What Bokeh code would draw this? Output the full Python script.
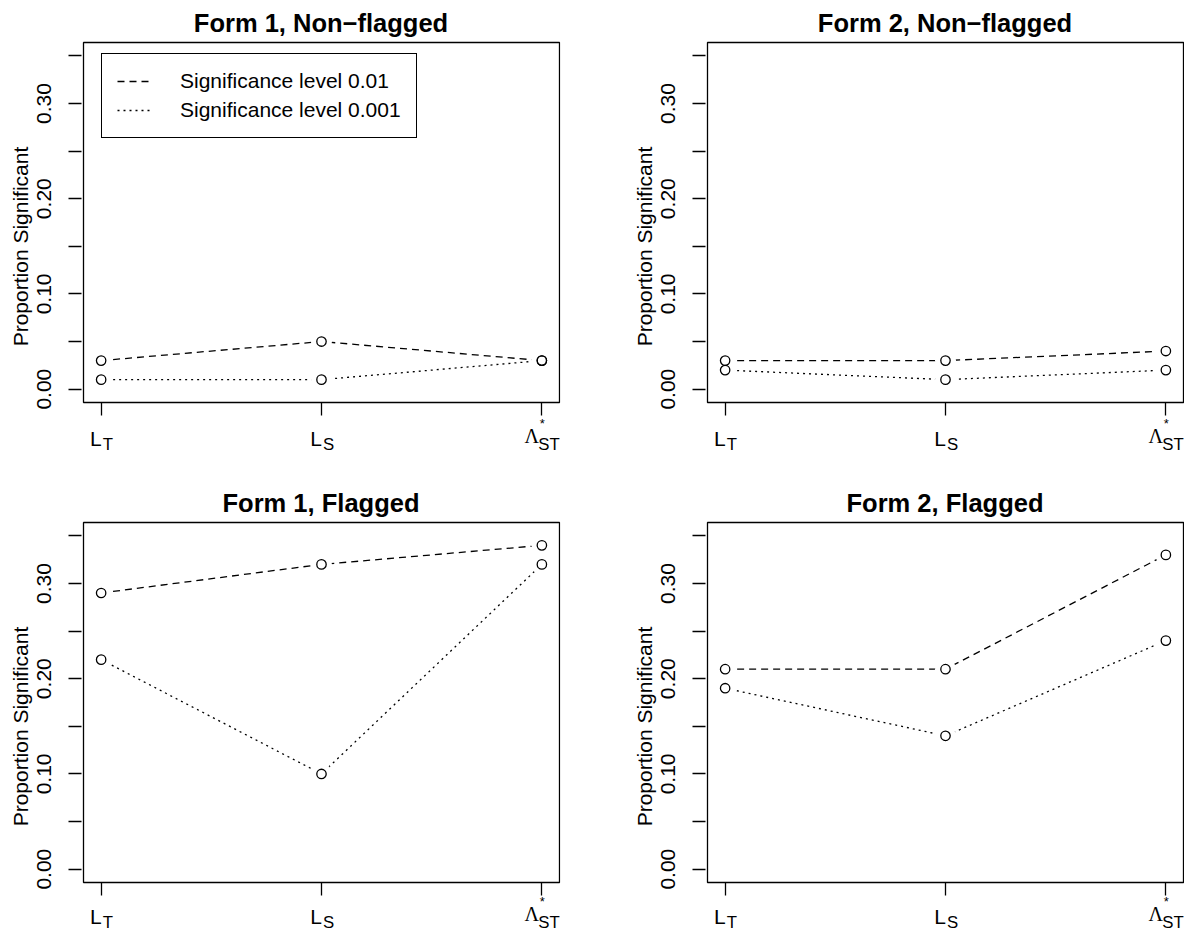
from bokeh.plotting import figure
from bokeh.layouts import gridplot
from bokeh.models import (Range1d, FixedTicker, PrintfTickFormatter, Label, Legend, LegendItem,
                          BoxAnnotation, Title)
from bokeh.embed import file_html
from bokeh.resources import INLINE

# ---- data ----
x_pos = [1, 2, 3]
tick_base = ["L", "L", "Λ"]
tick_sub = ["T", "S", "ST"]
tick_sup = ["", "", "*"]

titles = ["Form 1, Non−flagged", "Form 2, Non−flagged", "Form 1, Flagged", "Form 2, Flagged"]

sig01_form1_nonflag = [0.03, 0.05, 0.03]
sig001_form1_nonflag = [0.01, 0.01, 0.03]
sig01_form2_nonflag = [0.03, 0.03, 0.04]
sig001_form2_nonflag = [0.02, 0.01, 0.02]
sig01_form1_flag = [0.29, 0.32, 0.34]
sig001_form1_flag = [0.22, 0.10, 0.32]
sig01_form2_flag = [0.21, 0.21, 0.33]
sig001_form2_flag = [0.19, 0.14, 0.24]

y_major = [0.0, 0.1, 0.2, 0.3]
y_minor = [0.05, 0.15, 0.25, 0.35]
legend_labels = ["Significance level 0.01", "Significance level 0.001"]
y_label = "Proportion Significant"

# plotting region (R-style 4% extension of the data limits)
box_x = (0.92, 3.08)
box_y = (-0.014, 0.364)

FONT = "Liberation Sans"
SERIF = "Liberation Serif"
LW = 1.3
BOX_W, BOX_H = 476, 360          # box size in px
PAD_L, PAD_R, PAD_T, PAD_B = 2, 1, 2, 50   # frame extends beyond the box (px)
PXX = BOX_W / (box_x[1] - box_x[0])
PXY = BOX_H / (box_y[1] - box_y[0])
MAIN_FS, SUB_FS, GREEK_FS = 21.0, 16.8, 20.0


def mid_offset(baseline_drop, fs, ratio=0.3465):
    # y offset (px, upward) of a vertically centred text whose baseline sits baseline_drop px below the box
    return -(baseline_drop - ratio * fs)


def make_panel(title, s01, s001, width, height, br, drop, show_legend):
    p = figure(width=width, height=height, output_backend="svg", toolbar_location=None,
               x_range=Range1d(box_x[0] - PAD_L / PXX, box_x[1] + PAD_R / PXX),
               y_range=Range1d(box_y[0] - PAD_B / PXY, box_y[1] + PAD_T / PXY),
               min_border_left=81, min_border_right=br, min_border_top=40,
               min_border_bottom=height - 40 - (BOX_H + PAD_T + PAD_B))
    p.title.text = title
    p.title.align = "center"
    p.title.text_font = FONT
    p.title.text_font_size = "25.5px"
    p.title.text_font_style = "bold"
    p.title.text_color = "black"
    p.title.standoff = 8
    p.title.offset = (PAD_R - PAD_L) / 2
    p.xgrid.visible = False
    p.ygrid.visible = False
    p.outline_line_color = None
    p.background_fill_color = "white"
    p.border_fill_color = "white"

    p.add_layout(BoxAnnotation(left=box_x[0], right=box_x[1], bottom=box_y[0], top=box_y[1],
                               fill_color=None, line_color="black", line_width=LW, line_alpha=1.0))

    xa = p.xaxis[0]
    xa.fixed_location = box_y[0]
    xa.ticker = FixedTicker(ticks=x_pos)
    xa.axis_line_color = None
    xa.major_tick_out = 13
    xa.major_tick_in = 0
    xa.major_tick_line_width = LW
    xa.major_tick_line_color = "black"
    xa.minor_tick_line_color = None
    xa.major_label_text_font_size = "1px"
    xa.major_label_text_color = None

    ya = p.yaxis[0]
    ya.ticker = FixedTicker(ticks=y_major, minor_ticks=y_minor)
    ya.formatter = PrintfTickFormatter(format="%.2f")
    ya.axis_line_color = None
    ya.major_tick_out = 13
    ya.major_tick_in = 0
    ya.minor_tick_out = 13
    ya.minor_tick_in = 0
    ya.major_tick_line_width = LW
    ya.minor_tick_line_width = LW
    ya.major_tick_line_color = "black"
    ya.minor_tick_line_color = "black"
    ya.major_label_orientation = "vertical"
    ya.major_label_text_font = FONT
    ya.major_label_text_font_size = "21px"
    ya.major_label_text_color = "black"
    ya.major_label_standoff = 17

    # y-axis title, centred on the box (not on the taller frame)
    p.add_layout(Title(text=y_label, align="center", offset=(PAD_B - PAD_T) / 2, standoff=6,
                       text_font=FONT, text_font_size="21px", text_font_style="normal",
                       text_color="black"), "left")

    l1 = p.line(x_pos, s01, line_color="black", line_width=LW, line_dash="7 5")
    l2 = p.line(x_pos, s001, line_color="black", line_width=LW, line_dash="2 4")
    for s in (s01, s001):
        p.scatter(x_pos, s, size=21, fill_color="white", line_color=None)
    for s in (s01, s001):
        p.scatter(x_pos, s, size=9.4, fill_color=None, line_color="black", line_width=LW)

    y0 = box_y[0]
    for xv, b, sub, sup in zip(x_pos, tick_base, tick_sub, tick_sup):
        is_greek = sup != ""
        if is_greek:
            base_off = mid_offset(drop - 3, GREEK_FS, 0.3375)
        else:
            base_off = mid_offset(drop, MAIN_FS)
        p.add_layout(Label(x=xv, y=y0, x_offset=(-2.8 if is_greek else 0.5), y_offset=base_off,
                           text=b, text_align="right", text_baseline="middle",
                           text_font=(SERIF if is_greek else FONT),
                           text_font_size=f"{GREEK_FS if is_greek else MAIN_FS}px",
                           text_color="black"))
        p.add_layout(Label(x=xv, y=y0, x_offset=(-3.5 if is_greek else 1.5),
                           y_offset=mid_offset(drop + 4.5, SUB_FS), text=sub, text_align="left",
                           text_baseline="middle", text_font=FONT,
                           text_font_size=f"{SUB_FS}px", text_color="black"))
        if sup:
            p.add_layout(Label(x=xv, y=y0, x_offset=0.4, y_offset=-(drop - 22.5),
                               text=sup, text_align="center", text_baseline="middle",
                               text_font=FONT, text_font_size="13px", text_color="black"))

    if show_legend:
        leg = Legend(items=[LegendItem(label=legend_labels[0], renderers=[l1]),
                            LegendItem(label=legend_labels[1], renderers=[l2])],
                     location=(18 + PAD_L, 264 + PAD_B), margin=0, padding=15, spacing=5,
                     glyph_width=35, glyph_height=24, label_height=24, label_standoff=28,
                     label_text_font=FONT, label_text_font_size="21px", label_text_color="black",
                     border_line_color="black", border_line_width=LW, border_line_alpha=1.0,
                     background_fill_color="white", background_fill_alpha=1.0)
        p.add_layout(leg)
    return p


p1 = make_panel(titles[0], sig01_form1_nonflag, sig001_form1_nonflag, 624, 480, 64, 43.5, True)
p2 = make_panel(titles[1], sig01_form2_nonflag, sig001_form2_nonflag, 560, 480, 0, 43.5, False)
p3 = make_panel(titles[2], sig01_form1_flag, sig001_form1_flag, 624, 452, 64, 41.5, False)
p4 = make_panel(titles[3], sig01_form2_flag, sig001_form2_flag, 560, 452, 0, 41.5, False)

grid = gridplot([[p1, p2], [p3, p4]], toolbar_location=None)

open("out.html", "w").write(file_html(grid, INLINE))
